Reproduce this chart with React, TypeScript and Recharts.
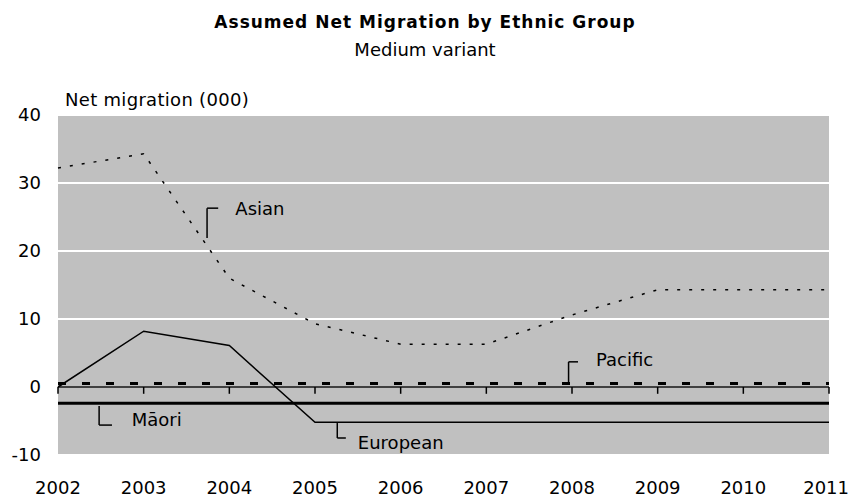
import { LineChart, Line, XAxis, YAxis, CartesianGrid, ReferenceLine, ReferenceDot } from "recharts";

const years = [2002, 2003, 2004, 2005, 2006, 2007, 2008, 2009, 2010, 2011];
const asian = [32.2, 34.3, 16.0, 9.3, 6.3, 6.3, 10.6, 14.3, 14.3, 14.3];
const european = [0, 8.2, 6.1, -5.2, -5.2, -5.2, -5.2, -5.2, -5.2, -5.2];
const pacific = [0.5, 0.5, 0.5, 0.5, 0.5, 0.5, 0.5, 0.5, 0.5, 0.5];
const maori = [-2.4, -2.4, -2.4, -2.4, -2.4, -2.4, -2.4, -2.4, -2.4, -2.4];
const yTicks = [-10, 0, 10, 20, 30, 40];

// callout brackets, in data units: vertical stroke at x from y0 to y1, elbow at yc going right to x1
const callouts = [
  { name: "Asian", x: 2003.74, y0: 21.9, y1: 26.3, yc: 26.3, x1: 2003.87, tx: 2004.07, ty: 26.3 },
  { name: "Pacific", x: 2007.96, y0: 0.6, y1: 3.7, yc: 3.7, x1: 2008.07, tx: 2008.28, ty: 4.0 },
  { name: "Māori", x: 2002.48, y0: -2.8, y1: -5.6, yc: -5.6, x1: 2002.63, tx: 2002.86, ty: -4.85 },
  { name: "European", x: 2005.26, y0: -5.3, y1: -7.5, yc: -7.5, x1: 2005.36, tx: 2005.5, ty: -8.2 },
];

const data = years.map((year, i) => ({
  year,
  asian: asian[i],
  european: european[i],
  pacific: pacific[i],
  maori: maori[i],
}));

const font = "'DejaVu Sans', sans-serif";
const lastYear = years[years.length - 1];

// last year label sits against the right edge, so pull it in a little
function YearTick(props: any) {
  const { x, y, payload } = props;
  const last = payload.value === lastYear;
  return (
    <text
      x={last ? x + 20 : x}
      y={y}
      dy="0.71em"
      textAnchor={last ? "end" : "middle"}
      fontSize={18}
      fontFamily={font}
      fill="#000"
    >
      {payload.value}
    </text>
  );
}

export default function App() {
  return (
    <div style={{ position: "absolute", left: 0, top: 0, width: 850, height: 499, background: "#fff", fontFamily: font, color: "#000" }}>
      <div style={{ position: "absolute", top: 12, width: 850, textAlign: "center", fontWeight: "bold", fontSize: 17, letterSpacing: 1, lineHeight: "20px" }}>
        Assumed Net Migration by Ethnic Group
      </div>
      <div style={{ position: "absolute", top: 40, width: 850, textAlign: "center", fontSize: 18, lineHeight: "20px" }}>
        Medium variant
      </div>
      <div style={{ position: "absolute", top: 90, left: 65, fontSize: 18, lineHeight: "20px", letterSpacing: 0.3 }}>
        Net migration (000)
      </div>
      <LineChart width={850} height={499} data={data} margin={{ top: 115, right: 21, bottom: 0, left: 0 }}>
        <CartesianGrid vertical={false} fill="#c0c0c0" stroke="#ffffff" strokeWidth={2} />
        <XAxis
          dataKey="year"
          type="number"
          domain={[2002, 2011]}
          ticks={years}
          height={44}
          axisLine={false}
          tickLine={false}
          tickSize={0}
          tickMargin={26}
          interval={0}
          tick={<YearTick />}
        />
        <YAxis
          domain={[-10, 40]}
          ticks={yTicks}
          width={58}
          axisLine={false}
          tickLine={false}
          tickSize={0}
          tickMargin={17}
          tick={{ fontSize: 18, fill: "#000", fontFamily: font }}
        />
        <ReferenceLine y={0} stroke="#000" strokeWidth={1.5} />
        {years.map((yr) => (
          <ReferenceLine key={yr} segment={[{ x: yr, y: 0 }, { x: yr, y: -1 }]} stroke="#000" strokeWidth={1.5} />
        ))}
        <Line type="linear" dataKey="asian" stroke="#000" strokeWidth={1.5} strokeDasharray="3 9" dot={false} isAnimationActive={false} />
        <Line type="linear" dataKey="european" stroke="#000" strokeWidth={1.5} dot={false} isAnimationActive={false} />
        <Line type="linear" dataKey="pacific" stroke="#000" strokeWidth={3} strokeDasharray="8 16" dot={false} isAnimationActive={false} />
        <Line type="linear" dataKey="maori" stroke="#000" strokeWidth={3} dot={false} isAnimationActive={false} />
        {callouts.map((c) => (
          <ReferenceLine key={c.name + "v"} segment={[{ x: c.x, y: c.y0 }, { x: c.x, y: c.y1 }]} stroke="#000" strokeWidth={1.5} />
        ))}
        {callouts.map((c) => (
          <ReferenceLine key={c.name + "h"} segment={[{ x: c.x, y: c.yc }, { x: c.x1, y: c.yc }]} stroke="#000" strokeWidth={1.5} />
        ))}
        {callouts.map((c) => (
          <ReferenceDot
            key={c.name + "t"}
            x={c.tx}
            y={c.ty}
            r={0}
            stroke="none"
            fill="none"
            label={{ value: c.name, position: "right", offset: 0, fontSize: 18, fill: "#000", fontFamily: font }}
          />
        ))}
      </LineChart>
    </div>
  );
}
